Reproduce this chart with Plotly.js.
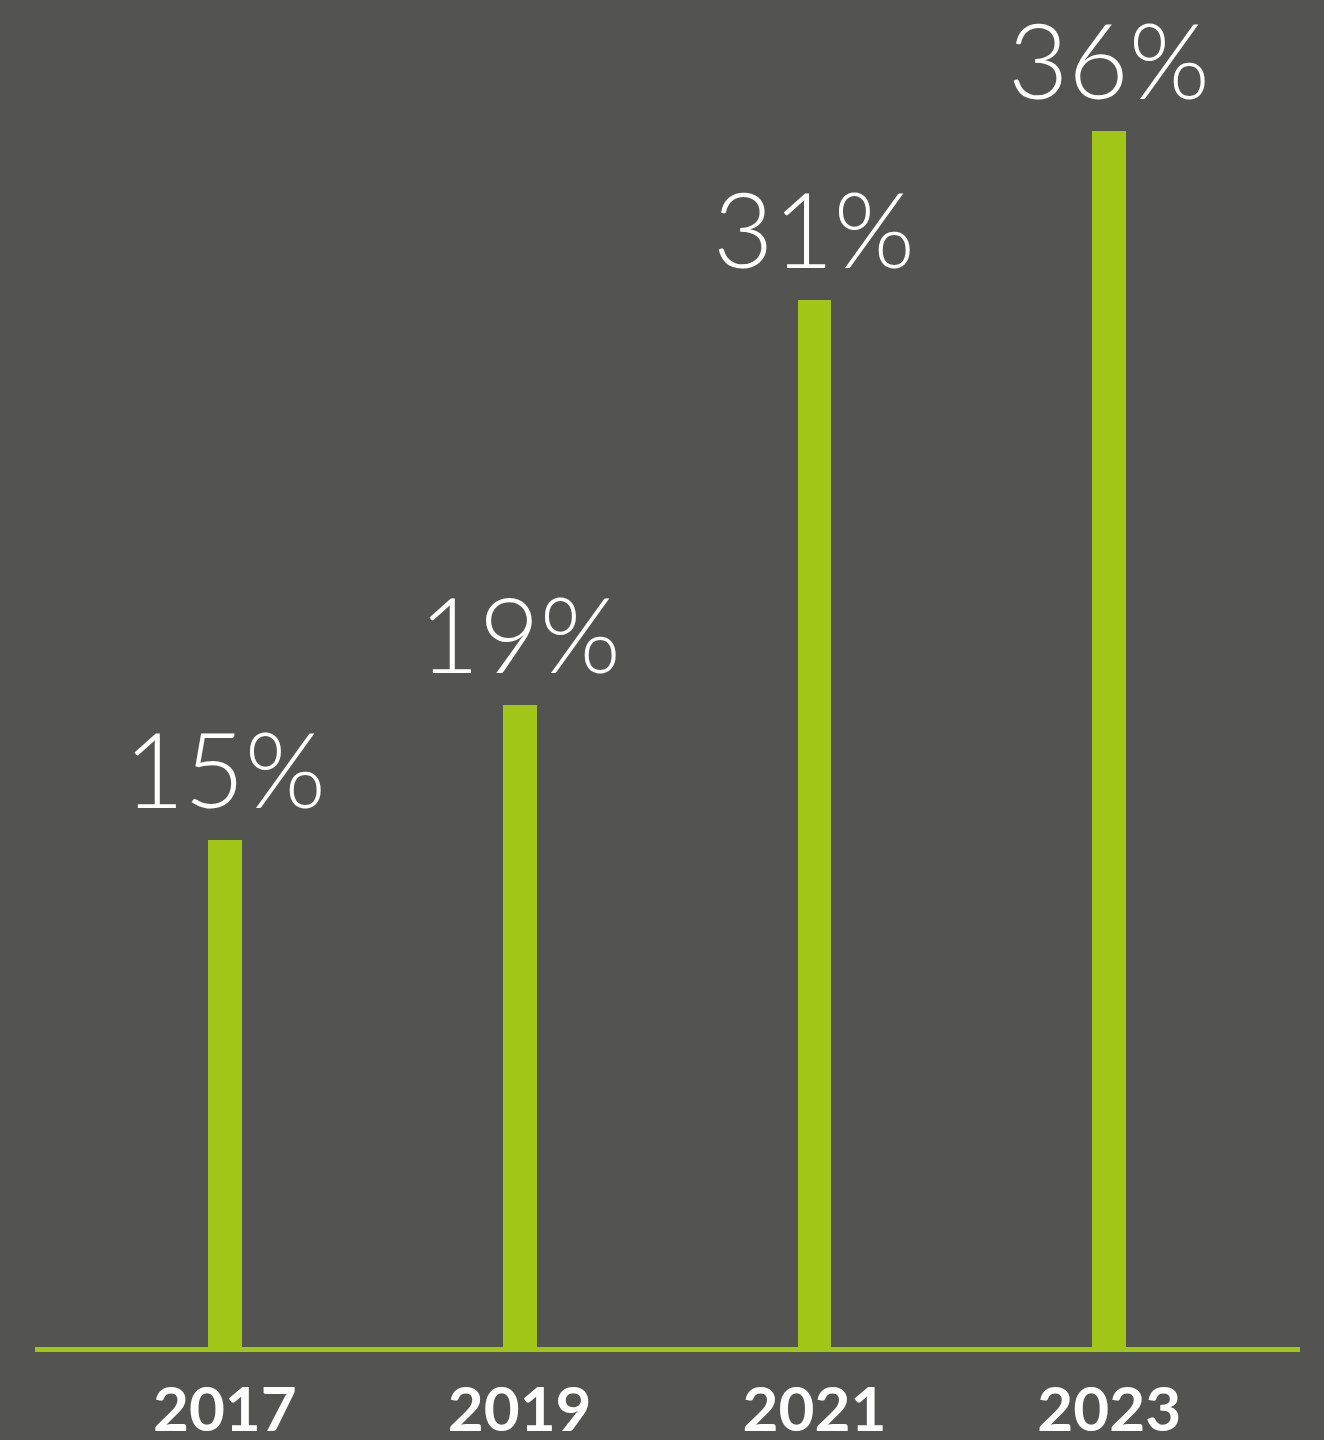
<!DOCTYPE html>
<html>
<head>
<meta charset="utf-8">
<script src="https://cdn.plot.ly/plotly-3.0.1.min.js"></script>
<style>
html,body{margin:0;padding:0;background:#535351;}
#chart{width:1324px;height:1440px;}
</style>
</head>
<body>
<div id="chart"></div>
<script>
const years = ["2017", "2019", "2021", "2023"];
const values = [15, 19, 31, 36];
const valueLabels = ["15%", "19%", "31%", "36%"];

const green = "#a2c617";
const bg = "#535351";

const trace = {
  type: "bar",
  x: years,
  y: values,
  width: 0.115,
  marker: {color: green, line: {width: 0}},
  hoverinfo: "skip"
};

const annotations = years.map((yr, i) => ({
  x: i,
  y: values[i],
  xref: "x",
  yref: "y",
  text: valueLabels[i],
  showarrow: false,
  yanchor: "bottom",
  xanchor: "center",
  yshift: 8,
  font: {family: "Lato", size: 104, color: "#ffffff", weight: 300}
}));

const layout = {
  width: 1324,
  height: 1440,
  paper_bgcolor: bg,
  plot_bgcolor: bg,
  margin: {l: 35, r: 24, t: 30, b: 93},
  showlegend: false,
  bargap: 0,
  xaxis: {
    type: "category",
    range: [-0.644, 3.647],
    showgrid: false,
    zeroline: false,
    showline: true,
    linecolor: green,
    linewidth: 5,
    ticks: "",
    ticklabelstandoff: 5,
    tickfont: {family: "Lato", size: 62, color: "#ffffff", weight: 700},
    fixedrange: true
  },
  yaxis: {
    range: [0, 39],
    showgrid: false,
    zeroline: false,
    showline: false,
    showticklabels: false,
    ticks: "",
    fixedrange: true
  },
  annotations: annotations
};

Plotly.newPlot("chart", [trace], layout, {displayModeBar: false, staticPlot: true});
</script>
</body>
</html>
